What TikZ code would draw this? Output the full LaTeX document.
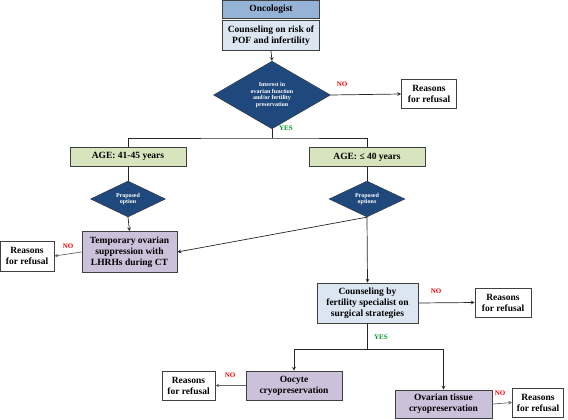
\documentclass[tikz,border=0pt]{standalone}
\usepackage{fontspec}
\setmainfont{Liberation Serif}
\usetikzlibrary{shapes.geometric}

\definecolor{oncblue}{RGB}{149,179,215}
\definecolor{paleblue}{RGB}{220,230,242}
\definecolor{agegreen}{RGB}{215,228,189}
\definecolor{lilac}{RGB}{204,193,218}
\definecolor{navy}{RGB}{31,73,125}
\definecolor{yesgreen}{RGB}{0,150,40}

\begin{document}
\begin{tikzpicture}[x=1pt,y=-1pt,>=stealth,
	box/.style={draw=black!75,line width=0.8pt,align=center,inner sep=1pt,
		font=\rmfamily\fontsize{9.5}{11}\selectfont\bfseries},
	decision/.style={diamond,draw=black!80,fill=navy,text=white,align=center,inner sep=0pt,
		font=\rmfamily\fontsize{6}{6.6}\selectfont\bfseries},
	refusal/.style={box,fill=white,minimum width=55pt,minimum height=29pt},
	nolabel/.style={text=red,font=\rmfamily\fontsize{7}{8}\selectfont\bfseries},
	yeslabel/.style={text=yesgreen,font=\rmfamily\fontsize{7}{8}\selectfont\bfseries},
	link/.style={draw=black!85,line width=0.7pt}]
	\useasboundingbox (0,0) rectangle (568,420);

	\node (onc) [box,fill=oncblue,minimum width=97pt,minimum height=18pt] at (271,9) {Oncologist};
	\node (cons) [box,fill=paleblue,minimum width=97pt,minimum height=30pt] at (271,35.5) {Counseling on risk of\\POF and infertility};
	\node (int) [decision,minimum width=117pt,minimum height=54pt] at (272,95) {Interest in\\ovarian function\\and/or fertility\\preservation};
	\node (ref1) [refusal] at (429,94) {Reasons\\for refusal};

	\node (age1) [box,fill=agegreen,minimum width=116pt,minimum height=19pt] at (128,156.5) {AGE: 41-45 years};
	\node (age2) [box,fill=agegreen,minimum width=116pt,minimum height=19pt] at (367,157) {AGE: ≤ 40 years};
	\node (opt1) [decision,minimum width=75pt,minimum height=36pt] at (128,199) {Proposed\\option};
	\node (opt2) [decision,minimum width=76pt,minimum height=34pt] at (367,199) {Proposed\\options};

	\node (temp) [box,fill=lilac,minimum width=95pt,minimum height=41pt] at (129.5,252) {Temporary ovarian\\suppression with\\LHRHs during CT};
	\node (ref2) [refusal,minimum width=54pt,minimum height=30pt] at (27,256) {Reasons\\for refusal};

	\node (fert) [box,fill=paleblue,minimum width=101pt,minimum height=40pt] at (367.5,303) {Counseling by\\fertility specialist on\\surgical strategies};
	\node (ref3) [refusal,minimum width=56pt] at (503,302.5) {Reasons\\for refusal};

	\node (ooc) [box,fill=lilac,minimum width=96pt,minimum height=29pt] at (294,385.5) {Oocyte\\cryopreservation};
	\node (ref4) [refusal,minimum width=53pt] at (188.5,385.5) {Reasons\\for refusal};
	\node (ovt) [box,fill=lilac,minimum width=97pt,minimum height=28pt] at (443.5,404) {Ovarian tissue\\cryopreservation};
	\node (ref5) [refusal,minimum width=51pt] at (538,402.5) {Reasons\\for refusal};

	\coordinate (split1) at (272,138);
	\coordinate (split2) at (367.5,349);

	\draw [link,->] (cons.south) -- (int.north);
	\draw [link,->] (int.east) -- (ref1.west);
	\draw [link] (int.south) -- (split1);
	\draw [link] (age1.north) |- (split1) -| (age2.north);
	\draw [link] (age1.south) -- (opt1.north);
	\draw [link,->] (opt1.south) -- (temp.north);
	\draw [link] (age2.south) -- (opt2.north);
	\draw [link,->] (opt2.south) -- (temp.east);
	\draw [link,->] (opt2.south) -- (fert.north);
	\draw [link,->,draw=black!60] (temp.west) -- (ref2.east);
	\draw [link,->] (fert.east) -- (ref3.west);
	\draw [link] (fert.south) -- (split2);
	\draw [link,->] (split2) -| (ooc.north);
	\draw [link,->] (split2) -| (ovt.north);
	\draw [link,->,draw=black!60] (ooc.west) -- (ref4.east);
	\draw [link,->,draw=black!60] (ovt.east) -- (ref5.west);

	\node (no1) [nolabel] at (342,84) {NO};
	\node (yes1) [yeslabel] at (286,128) {YES};
	\node (no2) [nolabel] at (68,246) {NO};
	\node (no3) [nolabel] at (436,291) {NO};
	\node (yes2) [yeslabel] at (381,337) {YES};
	\node (no4) [nolabel] at (230,375) {NO};
	\node (no5) [nolabel] at (500,393) {NO};
\end{tikzpicture}
\end{document}
